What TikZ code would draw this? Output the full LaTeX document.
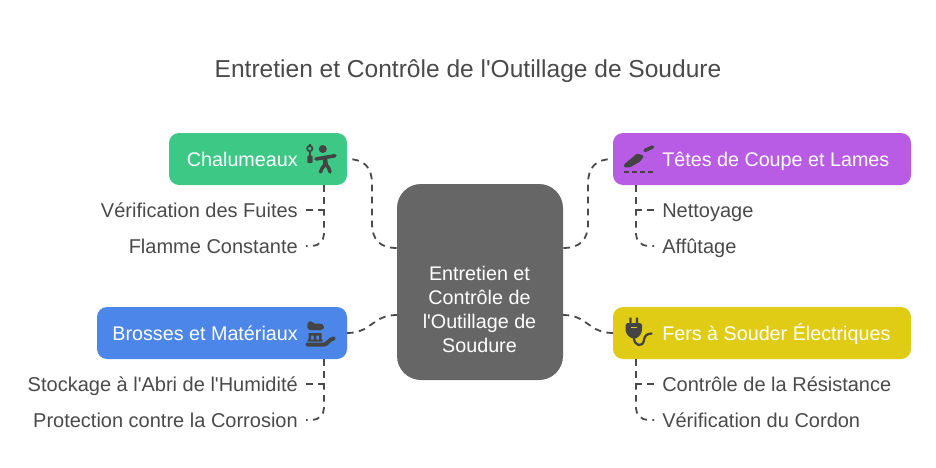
\documentclass[tikz,border=0pt]{standalone}
\usepackage{fontspec}
\setmainfont{Liberation Sans}[Ligatures=TeXOff]
\definecolor{ink}{HTML}{4A4A4A}
\definecolor{icon}{HTML}{444444}
\definecolor{cgreen}{HTML}{3EC886}
\definecolor{cpurple}{HTML}{B85CE5}
\definecolor{cblue}{HTML}{4B86E8}
\definecolor{cyellow}{HTML}{E0CC15}
\definecolor{ccenter}{HTML}{666666}
\tikzset{
  headtext/.style={inner sep=0pt,text=white,font=\fontsize{14.8pt}{16pt}\selectfont},
  leaf/.style={text=ink,inner sep=0pt,font=\fontsize{15pt}{16pt}\selectfont},
  link/.style={draw=ink,line width=1.35pt,dash pattern=on 5pt off 4pt,line cap=butt},
  iconline/.style={draw=icon,line cap=round,line join=round},
  boxfill/.style={rounded corners=7.5pt}
}
\begin{document}
\begin{tikzpicture}[x=0.75pt,y=-0.75pt]
\useasboundingbox[fill=white] (0,0) rectangle (936,468);
\node[text=ink,anchor=base,inner sep=0pt,font=\fontsize{18.4pt}{22pt}\selectfont] (title) at (468,77) {Entretien et Contrôle de l'Outillage de Soudure};

% boxes
\path[fill=cgreen,boxfill] (169,133) rectangle (347,185);
\path[fill=cpurple,boxfill] (613,133) rectangle (911,185);
\path[fill=cblue,boxfill] (97,307) rectangle (347,359);
\path[fill=cyellow,boxfill] (613,307) rectangle (911,359);
\node[rounded corners=18pt,fill=ccenter,minimum width=124.5pt,minimum height=147pt,inner sep=0pt] (center) at (480,282) {};
\node[inner sep=0pt,text=white,align=center,font=\fontsize{14.8pt}{18pt}\selectfont] (centertext) at (479.5,309) {Entretien et\\Contrôle de\\l'Outillage de\\Soudure};

\coordinate (ga) at (347,159);
\coordinate (pa) at (613,159);
\coordinate (ba) at (347,333);
\coordinate (ya) at (613,333);

% head labels
\node[headtext,anchor=base east] (chal) at (298,166) {Chalumeaux};
\node[headtext,anchor=base west] (tete) at (662,166) {Têtes de Coupe et Lames};
\node[headtext,anchor=base east] (bros) at (298,340) {Brosses et Matériaux};
\node[headtext,anchor=base west] (fers) at (662,340) {Fers à Souder Électriques};

% leaves
\node[leaf,anchor=base east] (l1) at (298,217) {Vérification des Fuites};
\node[leaf,anchor=base east] (l2) at (298,253) {Flamme Constante};
\node[leaf,anchor=base west] (r1) at (662,217) {Nettoyage};
\node[leaf,anchor=base west] (r2) at (662,253) {Affûtage};
\node[leaf,anchor=base east] (l3) at (298,391) {Stockage à l'Abri de l'Humidité};
\node[leaf,anchor=base east] (l4) at (298,427) {Protection contre la Corrosion};
\node[leaf,anchor=base west] (r3) at (662,391) {Contrôle de la Résistance};
\node[leaf,anchor=base west] (r4) at (662,427) {Vérification du Cordon};

% centre links
\coordinate (cnw) at (397,248);
\coordinate (cne) at (563,248);
\coordinate (csw) at (397,315);
\coordinate (cse) at (563,315);
\draw[link,dash phase=5pt] (ga) .. controls (364,159) and (372,167) .. (372,184) -- (372,223) .. controls (372,240) and (380,248) .. (cnw);
\draw[link,dash phase=5pt] (pa) .. controls (596,159) and (588,167) .. (588,184) -- (588,223) .. controls (588,240) and (580,248) .. (cne);
\draw[link] (ba) .. controls (372,333) and (372,315) .. (csw);
\draw[link] (ya) .. controls (588,333) and (588,315) .. (cse);

% leaf links
\coordinate (g0) at (324,185); \coordinate (g1) at (306,210); \coordinate (g2) at (306,246);
\coordinate (b0) at (324,359); \coordinate (b1) at (306,384); \coordinate (b2) at (306,420);
\coordinate (p0) at (636,185); \coordinate (p1) at (654,210); \coordinate (p2) at (654,246);
\coordinate (y0) at (636,359); \coordinate (y1) at (654,384); \coordinate (y2) at (654,420);
\foreach \a/\bb/\c in {g0/g1/g2,b0/b1/b2,p0/p1/p2,y0/y1/y2}{
  \draw[link] (\a) -- (\a |- \bb) -- (\bb);
  \draw[link,rounded corners=9pt] (\a) -- (\a |- \c) -- (\c);
}

% icon: torch and worker
\fill[icon] (322.8,149) circle (3pt);
\draw[iconline,line width=2.7pt] (316,159) -- (325,157.5) -- (335,155.7);
\draw[iconline,line width=3.4pt] (325,158) -- (325.5,164);
\draw[iconline,line width=2.6pt] (325.5,164) .. controls (323,167) and (321,169) .. (320.5,172);
\draw[iconline,line width=2.6pt] (325.5,164) .. controls (328,167) and (330,169) .. (330,172);
\fill[icon,rounded corners=0.8pt] (307.3,155.5) rectangle (312.7,163);
\draw[icon,line width=1.3pt] (309.8,148.5) circle (2pt);
\draw[icon,line width=1.5pt] (309.8,152) -- (309.8,155.5);
\draw[icon,line width=1.5pt] (309.8,143.5) -- (309.8,145.5);

% icon: blade
\fill[icon,rounded corners=0.8pt] (624,164.5) -- (637.3,153.3) -- (644,156) -- (640,161.7) -- (630,167.3) -- (624,167.3) -- cycle;
\draw[iconline,line width=2.6pt] (645,150.5) -- (652.5,147);
\draw[icon,line width=1.7pt,dash pattern=on 4.1pt off 1.9pt] (624,171.7) -- (654,171.7);

% icon: brush
\fill[icon,rounded corners=1.5pt] (308,330) .. controls (306.5,325) and (308,322) .. (311,320.5) -- (312.5,323.5) -- (320,323.5) .. controls (324,324.5) and (324,328) .. (323,330) -- cycle;
\fill[icon] (308.5,333) rectangle (321.5,335.5) (308.5,335.5) rectangle (311,341) (313.7,335.5) rectangle (316.3,341) (319,335.5) rectangle (321.5,341) (307.5,339.5) rectangle (322.5,341.5);
\draw[iconline,line width=3pt] (307.5,344.5) -- (324,344.5) .. controls (328,344.5) and (328,339.5) .. (333.5,338.5);

% icon: plug
\fill[icon] (629.3,317.5) rectangle (631.7,323.5) (635.8,317.5) rectangle (638.2,323.5);
\fill[icon,rounded corners=1.2pt] (625.5,323.2) -- (642,323.2) -- (642,330) .. controls (641,335) and (637.5,338) .. (634,338.5) .. controls (630.5,338) and (626.5,335) .. (625.5,330) -- cycle;
\fill[cyellow] (630.8,326.7) rectangle (636.8,328.3);
\draw[icon,line width=1.7pt,line cap=round] (634,338) .. controls (634,346) and (643,348) .. (644,340) .. controls (644.5,336) and (647,333.5) .. (651.5,333.5);
\end{tikzpicture}
\end{document}
